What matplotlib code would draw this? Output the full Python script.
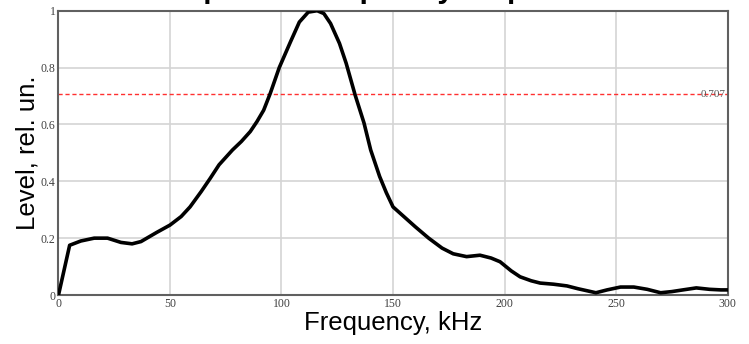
import matplotlib
matplotlib.use('Agg')
import matplotlib.pyplot as plt

freq = [0, 5, 10, 16, 22, 28, 33, 37, 44, 50, 55, 59, 64, 68, 72, 78, 82, 86, 89, 92,
        95, 99, 104, 108, 112, 116, 119, 122, 126, 129, 133, 137, 140, 144, 147, 150,
        155, 160, 166, 172, 177, 183, 189, 194, 198, 203, 207, 212, 216, 222, 228,
        233, 237, 241, 246, 252, 258, 264, 270, 275, 280, 286, 292, 297, 300]
level = [0.0, 0.175, 0.19, 0.2, 0.2, 0.185, 0.18, 0.188, 0.22, 0.246, 0.276, 0.31,
         0.364, 0.41, 0.458, 0.51, 0.54, 0.575, 0.61, 0.65, 0.71, 0.8, 0.89, 0.96,
         0.995, 1.0, 0.99, 0.955, 0.885, 0.815, 0.704, 0.605, 0.51, 0.417, 0.36, 0.31,
         0.275, 0.24, 0.2, 0.165, 0.145, 0.135, 0.14, 0.13, 0.117, 0.085, 0.064, 0.05,
         0.042, 0.038, 0.032, 0.022, 0.015, 0.008, 0.018, 0.028, 0.028, 0.02, 0.008,
         0.012, 0.018, 0.025, 0.02, 0.018, 0.018]
level_07 = 0.707
x_ticks = [0, 50, 100, 150, 200, 250, 300]
y_ticks = [0, 0.2, 0.4, 0.6, 0.8, 1]
y_tick_labels = ['0', '0.2', '0.4', '0.6', '0.8', '1']

fig = plt.figure(figsize=(7.49, 3.44), dpi=100)
ax = fig.add_axes([0.0781, 0.1424, 0.8932, 0.8265])

ax.plot(freq, level, color='black', lw=2.6, solid_joinstyle='round', zorder=3)
ax.axhline(level_07, color='#ff3030', lw=1.0, ls=(0, (3, 2)), zorder=2)
ax.text(299, level_07, '0.707', family='Liberation Serif', fontsize=8,
        color='#555555', ha='right', va='center', zorder=4)

ax.set_xlim(0, 300)
ax.set_ylim(0, 1)
ax.set_xticks(x_ticks)
ax.set_yticks(y_ticks)
ax.set_yticklabels(y_tick_labels)
ax.grid(True, color='#d4d4d4', lw=1.2)
ax.set_axisbelow(True)
ax.tick_params(length=0, pad=2, labelsize=8.5, labelcolor='#404040')
for lab in ax.get_xticklabels() + ax.get_yticklabels():
    lab.set_family('Liberation Serif')
for sp in ax.spines.values():
    sp.set_color('#606060')
    sp.set_linewidth(1.5)

ax.set_xlabel('Frequency, kHz', family='Liberation Sans', fontsize=18.5, labelpad=1)
ax.set_ylabel('Level, rel. un.', family='Liberation Sans', fontsize=18.5, labelpad=1)
# title sits above the picture's top edge, only descenders show, as in the reference
fig.text(0.5, 1 + 2.5 / 344, 'Amplitude-frequency response', family='Liberation Sans',
         fontsize=21.5, fontweight='bold', ha='center', va='baseline')

fig.savefig('out.png', dpi=100)
